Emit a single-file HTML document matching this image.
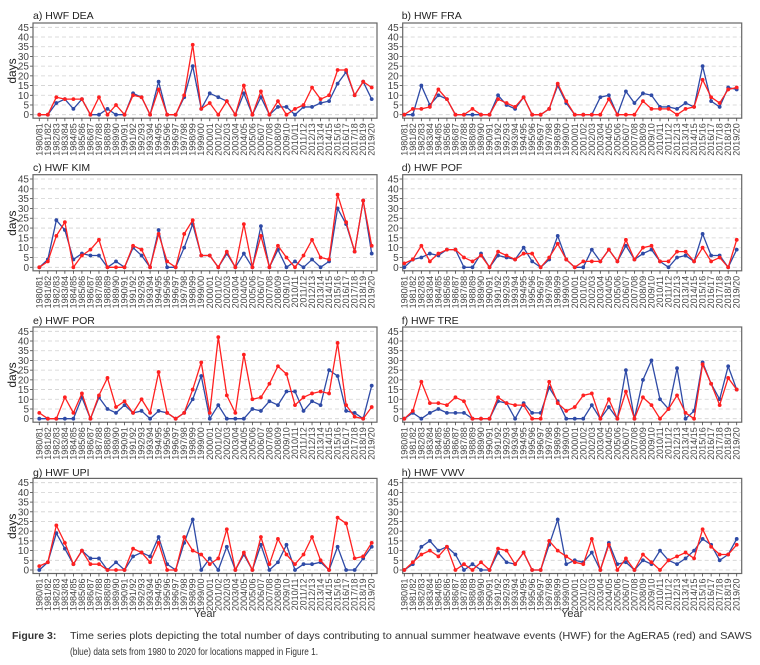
<!DOCTYPE html>
<html><head><meta charset="utf-8"><style>
html,body{margin:0;padding:0;background:#fff;}
svg{display:block;font-family:"Liberation Sans",Arial,sans-serif;}
</style></head><body>
<svg id="fig" width="760" height="665" viewBox="0 0 760 665" xmlns="http://www.w3.org/2000/svg">
<g id="panels"></g>
<text x="12" y="639" font-size="10.5" font-weight="bold" fill="#333" font-family="'Liberation Sans Narrow','Liberation Sans',sans-serif">Figure 3:</text>
<text x="70" y="639" font-size="10.5" fill="#333" textLength="682" lengthAdjust="spacingAndGlyphs" font-family="'Liberation Sans Narrow','Liberation Sans',sans-serif">Time series plots depicting the total number of days contributing to annual summer heatwave events (HWF) for the AgERA5 (red) and SAWS</text>
<text x="70" y="655" font-size="10.5" fill="#333" textLength="248" lengthAdjust="spacingAndGlyphs" font-family="'Liberation Sans Narrow','Liberation Sans',sans-serif">(blue) data sets from 1980 to 2020 for locations mapped in Figure 1.</text>
</svg>
<script>
const seasons = [];
for (let y = 1980; y < 2020; y++) seasons.push(y + "/" + String((y + 1) % 100).padStart(2, "0"));
const yTicks = [0,5,10,15,20,25,30,35,40,45];
const panelTitles = ["a) HWF DEA","b) HWF FRA","c) HWF KIM","d) HWF POF","e) HWF POR","f) HWF TRE","g) HWF UPI","h) HWF VWV"];
const redDEA = [0,0,9,8,8,8,0,9,0,5,0,10,9,0,13,0,0,10,36,3,6,0,7,0,15,0,12,0,7,0,3,5,14,8,10,23,23,10,17,14];
const blueDEA = [0,0,6,8,3,8,0,0,3,0,0,11,9,0,17,0,0,9,25,3,11,9,7,0,11,0,9,0,4,4,0,4,4,6,7,16,22,10,17,8];
const redFRA = [0,3,3,4,13,8,0,0,3,0,0,8,6,4,9,0,0,3,16,7,0,0,0,0,8,0,0,0,7,3,3,3,0,3,4,18,9,6,13,14];
const blueFRA = [0,0,15,5,10,8,0,0,0,0,0,10,5,3,9,0,0,3,15,6,0,0,0,9,10,0,12,6,11,10,4,4,3,6,4,25,7,4,14,13];
const redKIM = [0,3,16,23,0,6,9,14,0,0,0,11,9,0,17,3,0,17,24,6,6,0,8,0,22,0,16,0,11,5,0,6,14,5,4,37,23,8,34,11];
const blueKIM = [0,4,24,19,4,7,6,6,0,3,0,10,6,0,19,0,0,10,22,6,6,0,7,0,7,0,21,0,9,0,3,0,4,0,3,30,22,8,34,7];
const redPOF = [2,4,11,3,7,9,9,5,3,6,0,8,6,4,7,7,0,5,12,4,0,3,3,3,9,3,14,4,10,11,3,3,8,8,3,10,3,5,0,14];
const bluePOF = [0,4,5,7,6,9,9,0,0,7,0,6,5,4,10,3,0,4,16,4,0,0,9,3,9,3,11,4,7,9,3,0,5,6,3,17,6,6,0,9];
const redPOR = [3,0,0,11,3,13,0,12,21,6,9,3,10,3,24,3,0,3,15,29,3,42,12,3,33,10,11,18,27,23,7,11,13,14,13,39,7,1,0,6];
const bluePOR = [0,0,0,0,0,11,0,11,5,3,7,3,4,0,4,3,0,3,10,22,0,7,0,0,0,5,4,9,7,14,14,4,9,7,25,22,4,3,0,17];
const redTRE = [0,4,19,8,8,7,11,9,0,0,0,11,8,7,7,0,0,19,8,4,6,12,13,0,10,0,14,0,11,7,0,5,12,3,0,28,18,7,21,15];
const blueTRE = [0,3,0,3,5,3,3,3,0,0,0,9,8,0,8,3,3,16,9,0,0,0,7,0,6,0,25,0,20,30,10,5,26,0,4,29,18,10,27,15];
const redUPI = [2,4,23,14,3,10,3,3,0,0,0,11,9,4,14,0,0,17,10,8,3,6,21,0,9,0,17,3,16,8,3,8,17,5,0,27,24,6,7,14];
const blueUPI = [0,4,19,11,3,10,6,6,0,4,0,7,9,7,17,3,0,14,26,0,6,0,12,0,8,0,13,0,4,13,0,3,3,4,0,12,0,0,6,12];
const redVWV = [0,4,8,10,7,12,0,3,0,4,0,11,10,3,9,0,0,15,10,7,4,3,16,0,13,0,6,0,8,4,0,5,7,9,6,21,12,8,8,13];
const blueVWV = [0,3,12,15,10,12,8,0,3,0,0,9,4,3,9,0,0,13,26,3,5,4,9,0,14,3,4,0,5,3,10,5,3,6,10,16,13,5,8,16];

const redSeries = [redDEA,redFRA,redKIM,redPOF,redPOR,redTRE,redUPI,redVWV];
const blueSeries = [blueDEA,blueFRA,blueKIM,bluePOF,bluePOR,blueTRE,blueUPI,blueVWV];

const NS = "http://www.w3.org/2000/svg";
const root = document.getElementById("panels");
const rowGeo = [{t:15,y45:27.3,y0:114.7},{t:167,y45:179,y0:267.3},{t:320,y45:331.3,y0:418.7},{t:472,y45:482.7,y0:570}];
const colGeo = [{bx0:33,bx1:377,p0:39.3,p1:371.7},{bx0:402.7,bx1:741.7,p0:404.3,p1:736.7}];
function mk(tag, attrs, parent){const e=document.createElementNS(NS,tag);for(const k in attrs)e.setAttribute(k,attrs[k]);parent.appendChild(e);return e;}

for (let p = 0; p < 8; p++) {
  const r = rowGeo[Math.floor(p/2)], c = colGeo[p%2];
  const yS = v => r.y0 - (v/45)*(r.y0 - r.y45);
  const xS = i => c.p0 + i*(c.p1 - c.p0)/(seasons.length - 1);
  const g = mk("g", {}, root);
  
  
  const t = mk("text", {x:c.bx0 - (p%2?1:0), y:r.t+4, "font-size":10.5, fill:"#222"}, g);
  t.textContent = panelTitles[p];
  
  
  const top = r.y45 - 4.3, bot = r.y0 + 3.5;
  for (const v of yTicks) {
    const gl = mk("line", {x1:c.bx0+1, x2:c.bx1-1, y1:yS(v), y2:yS(v), stroke:"#d0d0d0", "stroke-width":0.8, "stroke-dasharray":"4,3"}, g);
    
    
    mk("line", {x1:c.bx0-3, x2:c.bx0, y1:yS(v), y2:yS(v), stroke:"#444", "stroke-width":0.8}, g);
    const tl = mk("text", {x:c.bx0-4, y:yS(v)+3.5, "font-size":10, fill:"#444", "text-anchor":"end"}, g);
    tl.textContent = v;
    
    
  }
  const box = mk("rect", {x:c.bx0, y:top, width:c.bx1-c.bx0, height:bot-top, fill:"none", stroke:"#666", "stroke-width":1.2}, g);
  
  
  seasons.forEach((s,i) => {
    mk("line", {x1:xS(i), x2:xS(i), y1:bot, y2:bot+3, stroke:"#444", "stroke-width":0.8}, g);
    const xl = mk("text", {x:0, y:0, "font-size":9, fill:"#444", "text-anchor":"end", transform:`translate(${xS(i)+3},${bot+5}) rotate(-90)`}, g);
    xl.textContent = s;
    
    
  });
  if (p%2 === 0) {
    const yl = mk("text", {x:0, y:0, "font-size":12, fill:"#222", "text-anchor":"middle", transform:`translate(16,${(r.y0+r.y45)/2}) rotate(-90)`}, g);
    yl.textContent = "days";
    
    
  }
  if (p >= 6) {
    const xt = mk("text", {x:(c.bx0+c.bx1)/2, y:617, "font-size":11, fill:"#333", "text-anchor":"middle"}, g);
    xt.textContent = "Year";
    
    
  }
  [[blueSeries[p], "#2e4aa6", "saws-series"], [redSeries[p], "#ff2020", "agera5-series"]].forEach(([data,col,nm]) => {
    const pts = data.map((v,i) => xS(i).toFixed(2)+","+yS(v).toFixed(2)).join(" ");
    const pl = mk("polyline", {points:pts, fill:"none", stroke:col, "stroke-width":1.3}, g);
    
    
    data.forEach((v,i) => {
      const m = mk("circle", {cx:xS(i), cy:yS(v), r:1.9, fill:col}, g);
      
      
    });
  });
}
</script>
</body></html>
